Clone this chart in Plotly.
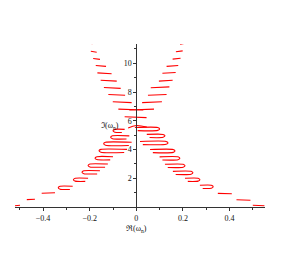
import plotly.graph_objects as go

# ---- data (data units) ----
# lower hooks, left branch
lh_y   = [1.34, 1.90, 2.42, 2.89, 3.40, 3.91, 4.40, 4.85, 5.30]
lh_tip = [-0.335, -0.270, -0.233, -0.207, -0.177, -0.160, -0.140, -0.110, -0.100]
lh_end = [-0.273, -0.207, -0.156, -0.122, -0.100, -0.040, -0.020, -0.030, -0.050]
# lower hooks, right branch
rh_y   = [1.41, 1.90, 2.38, 2.87, 3.39, 3.90, 4.46, 4.95, 5.43]
rh_tip = [0.330, 0.273, 0.243, 0.209, 0.187, 0.166, 0.136, 0.123, 0.100]
rh_end = [0.273, 0.209, 0.157, 0.123, 0.100, 0.059, 0.016, 0.045, -0.006]
# lower dashes
ld_y  = [0.09, 0.51, 0.96]
ld_x0 = [-0.521, -0.470, -0.406]
ld_x1 = [-0.499, -0.435, -0.349]
rd_y  = [0.09, 0.47, 0.92]
rd_x0 = [0.500, 0.430, 0.350]
rd_x1 = [0.550, 0.490, 0.410]
# upper dashes, left
ud_l_y  = [11.39, 10.80, 10.30, 9.81, 9.30, 8.79, 8.28, 7.80, 7.29, 6.78, 6.25]
ud_l_xo = [-0.207, -0.195, -0.185, -0.174, -0.167, -0.153, -0.139, -0.120, -0.101, -0.077, -0.050]
ud_l_xi = [-0.188, -0.170, -0.156, -0.130, -0.106, -0.084, -0.067, -0.048, -0.020, 0.030, 0.044]
# upper dashes, right
ud_r_y  = [11.36, 10.83, 10.32, 9.81, 9.33, 8.79, 8.33, 7.80, 7.29, 6.78]
ud_r_xo = [0.209, 0.199, 0.190, 0.180, 0.169, 0.156, 0.142, 0.130, 0.110, 0.076]
ud_r_xi = [0.188, 0.170, 0.156, 0.130, 0.112, 0.097, 0.062, 0.050, 0.025, -0.030]
# top arch near the axis
arch_x = [-0.035, 0.000, 0.045]
arch_y = [5.49, 5.67, 5.56]

xticks = [-0.4, -0.2, 0, 0.2, 0.4]
xticklabels = ["\u22120.4", "\u22120.2", "0", "0.2", "0.4"]
yticks = [2, 4, 6, 8, 10]

RED = "#ff0000"
H = 0.10      # half height of a hook
K = 0.008     # rounding width of a hook tip
LW = 1.1

xs, ys = [], []
def add(px, py):
    xs.extend(px + [None]); ys.extend(py + [None])

fig = go.Figure()
hx, hy = [], []
for y, t, e in zip(lh_y, lh_tip, lh_end):
    hx += [e, t + K, t, t + K, e - 0.012, None]
    hy += [y + H, y + H, y, y - H, y - H - 0.02, None]
for y, t, e in zip(rh_y, rh_tip, rh_end):
    hx += [e, t - K, t, t - K, e + 0.012, None]
    hy += [y + H, y + H, y, y - H, y - H - 0.02, None]
for (yy, a, b) in zip(ld_y, ld_x0, ld_x1):
    add([a, b], [yy, yy + 0.03])
for (yy, a, b) in zip(rd_y, rd_x0, rd_x1):
    add([a, b], [yy + 0.03, yy])
for (yy, a, b) in zip(ud_l_y, ud_l_xo, ud_l_xi):
    add([a, b], [yy + 0.03, yy - 0.03])
for (yy, a, b) in zip(ud_r_y, ud_r_xo, ud_r_xi):
    add([a, b], [yy + 0.03, yy - 0.03])

fig.add_trace(go.Scatter(x=hx, y=hy, mode="lines", line=dict(color=RED, width=LW, shape="spline", smoothing=0.7),
                         hoverinfo="skip", showlegend=False))
fig.add_trace(go.Scatter(x=xs, y=ys, mode="lines", line=dict(color=RED, width=LW), hoverinfo="skip", showlegend=False))
fig.add_trace(go.Scatter(x=arch_x, y=arch_y, mode="lines", line=dict(color=RED, width=LW, shape="spline"),
                         hoverinfo="skip", showlegend=False))

xr = [-0.5206, 0.5524]
yr = [0, 11.34]
tf = dict(family="Liberation Serif, DejaVu Serif, serif", size=8, color="#111")
fig.update_layout(
    width=289, height=269,
    margin=dict(l=7, r=32, t=36, b=70),
    paper_bgcolor="white", plot_bgcolor="white",
    font=tf,
    xaxis=dict(range=xr, showgrid=False, zeroline=False, showline=True, linecolor="#333", linewidth=1,
               tickvals=xticks, ticktext=xticklabels, ticks="outside", ticklen=3, tickcolor="#333",
               tickfont=tf, ticklabelstandoff=0,
               minor=dict(dtick=0.1, tick0=0, ticks="outside", ticklen=2, tickcolor="#333"),
               automargin=False, fixedrange=True),
    yaxis=dict(range=yr, showgrid=False, zeroline=False, showline=True, linecolor="#333", linewidth=1,
               anchor="free", position=(0 - xr[0]) / (xr[1] - xr[0]),
               tickvals=yticks, ticks="outside", ticklen=3, tickcolor="#333", tickfont=tf,
               minor=dict(dtick=1, tick0=0, ticks="outside", ticklen=2, tickcolor="#333"),
               automargin=False, fixedrange=True),
    annotations=[
        dict(x=0, y=-0.09, xref="x", yref="paper", text="\u211c(\u03c9<sub>n</sub>)", showarrow=False,
             yanchor="top", font=tf),
        dict(x=-0.065, y=5.65, xref="x", yref="y", text="\u2111(\u03c9<sub>n</sub>)", showarrow=False,
             xanchor="right", font=tf),
    ],
)
fig.write_html("out.html")
